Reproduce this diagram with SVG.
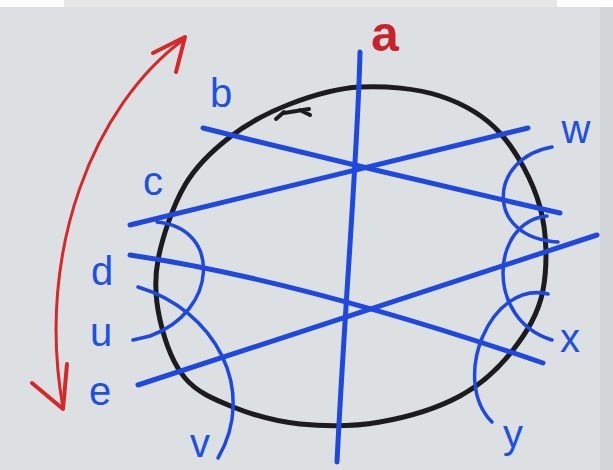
<svg xmlns="http://www.w3.org/2000/svg" width="613" height="470" viewBox="0 0 613 470">
<style>
.bl{fill:none;stroke:#1f48e0;stroke-width:5;stroke-linecap:round;stroke-linejoin:round}
.arc{fill:none;stroke:#1f48e0;stroke-width:3.5;stroke-linecap:round}
.red{fill:none;stroke:#d62828;stroke-linecap:round;stroke-linejoin:round}
.lbl{font-family:"Liberation Sans",Arial,sans-serif;font-size:40px;fill:#2050e0;text-anchor:middle}
</style>
<rect x="0" y="0" width="613" height="470" fill="#ffffff"/>
<rect x="0" y="7" width="613" height="463" fill="#dde0e3"/>
<rect x="64" y="0" width="493" height="7" fill="#e4e6e8"/>
<rect x="600" y="7" width="13" height="463" fill="#d3d6d9"/>

<g id="ring">
<path d="M360,87 C385,85.7 416.7,88.3 440,96 C463.3,103.7 483.3,114.5 500,133 C516.7,151.5 532.8,180.8 540,207 C547.2,233.2 547.5,266.2 543,290 C538.5,313.8 526.8,332.3 513,350 C499.2,367.7 482.2,384 460,396 C437.8,408 406.7,417.3 380,422 C353.3,426.7 324.5,426.5 300,424 C275.5,421.5 252.2,414.7 233,407 C213.8,399.3 197.2,392.5 185,378 C172.8,363.5 164.5,339.7 160,320 C155.5,300.3 153.8,282.5 158,260 C162.2,237.5 173,205.5 185,185 C197,164.5 212.5,150.5 230,137 C247.5,123.5 268.3,112.3 290,104 C311.7,95.7 335,88.3 360,87 Z" fill="none" stroke="#1c1c1e" stroke-width="5"/>
<path d="M276,119 L284,112 M284,113 L309,109 M300,110 L310,115" fill="none" stroke="#1c1c1e" stroke-width="4" stroke-linecap="round"/>
</g>

<g id="connectors">
<path id="line-a" class="bl" d="M360,52 C358,150 345,300 337,462"/>
<path id="line-b" class="bl" d="M203,128 Q380,172 560,213"/>
<path id="line-c" class="bl" d="M130,225 L528,128"/>
<path id="line-d" class="bl" d="M130,255 Q300,280 543,363"/>
<path id="line-e" class="bl" d="M138,385 L597,235"/>
<path id="arc-u" class="arc" d="M157,222 C222,228 218,312 150,336 L133,340"/>
<path id="arc-v" class="arc" d="M138,287 C215,310 258,390 218,458"/>
<path id="arc-w" class="arc" d="M552,147 C488,158 484,238 558,242"/>
<path id="arc-x" class="arc" d="M547,216 C490,222 485,320 552,340"/>
<path id="arc-y" class="arc" d="M548,294 C490,280 450,380 492,422"/>
</g>

<g id="arrow">
<path class="red" stroke-width="3" d="M183,40 C95,105 35,250 63,408"/>
<path class="red" stroke-width="4" d="M153,53 L185,37 L176,72"/>
<path class="red" stroke-width="4" d="M32,383 L63,409 L67,364"/>
</g>

<g id="label-a"><text x="385" y="51" font-family="Liberation Sans,Arial,sans-serif" font-size="50" font-weight="bold" fill="#c8232b" text-anchor="middle">a</text></g>
<g id="label-b"><text class="lbl" x="221" y="107">b</text></g>
<g id="label-c"><text class="lbl" x="153" y="195">c</text></g>
<g id="label-d"><text class="lbl" x="102" y="285">d</text></g>
<g id="label-u"><text class="lbl" x="101" y="346">u</text></g>
<g id="label-e"><text class="lbl" x="100" y="405">e</text></g>
<g id="label-v"><text class="lbl" x="200" y="457">v</text></g>
<g id="label-w"><text class="lbl" x="576" y="143">w</text></g>
<g id="label-x"><text class="lbl" x="570" y="352">x</text></g>
<g id="label-y"><text class="lbl" x="513" y="448">y</text></g>
</svg>
